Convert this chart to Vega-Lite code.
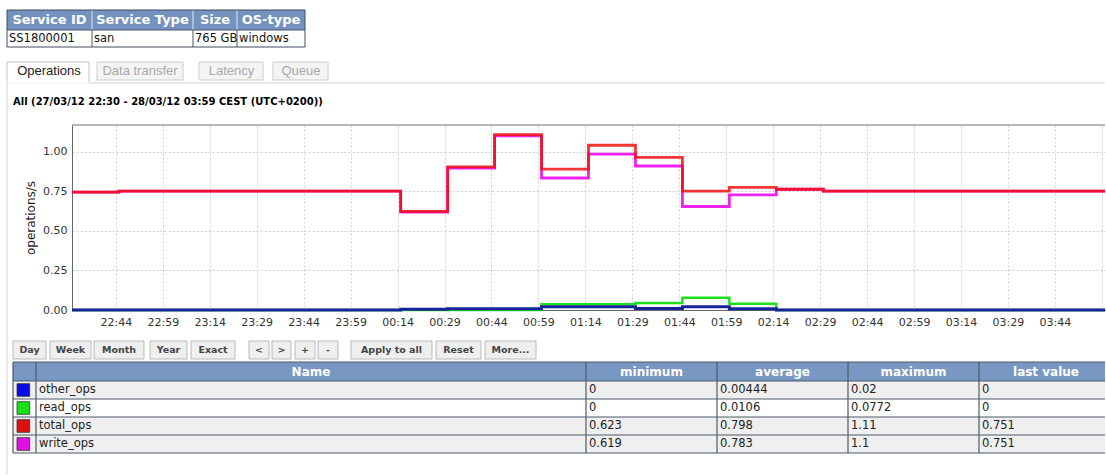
{
"$schema": "https://vega.github.io/schema/vega-lite/v6.json",
"background": "white",
"padding": {"left": 6, "top": 9, "right": 0, "bottom": 0},
"spacing": 0,
"bounds": "flush",
"config": {"view": {"stroke": null}},
"datasets": {
 "tophead": [{"c":0,"text":"Service ID"},{"c":1,"text":"Service Type"},{"c":2,"text":"Size"},{"c":3,"text":"OS-type"}],
 "topcells": [{"c":0,"text":"SS1800001"},{"c":1,"text":"san"},{"c":2,"text":"765 GB"},{"c":3,"text":"windows"}],
 "tabs": [{"tab":"Operations","a":0,"b":1},{"tab":"Data transfer","a":2,"b":3},{"tab":"Latency","a":4,"b":5},{"tab":"Queue","a":6,"b":7}],
 "buttons": [{"label":"Day","a":0,"b":1},{"label":"Week","a":2,"b":3},{"label":"Month","a":4,"b":5},{"label":"Year","a":6,"b":7},{"label":"Exact","a":8,"b":9},{"label":"<","a":10,"b":11},{"label":">","a":12,"b":13},{"label":"+","a":14,"b":15},{"label":"-","a":16,"b":17},{"label":"Apply to all","a":18,"b":19},{"label":"Reset","a":20,"b":21},{"label":"More...","a":22,"b":23}],
 "ops": [
  {"t":"2012-03-27T22:30:00","total":0.745,"write":0.745,"read":0,"other":0},
  {"t":"2012-03-27T22:45:00","total":0.751,"write":0.751,"read":0,"other":0},
  {"t":"2012-03-27T23:00:00","total":0.751,"write":0.751,"read":0,"other":0},
  {"t":"2012-03-27T23:15:00","total":0.751,"write":0.751,"read":0,"other":0},
  {"t":"2012-03-27T23:30:00","total":0.751,"write":0.751,"read":0,"other":0},
  {"t":"2012-03-27T23:45:00","total":0.751,"write":0.751,"read":0,"other":0},
  {"t":"2012-03-28T00:00:00","total":0.751,"write":0.751,"read":0,"other":0},
  {"t":"2012-03-28T00:15:00","total":0.623,"write":0.619,"read":0,"other":0.004},
  {"t":"2012-03-28T00:30:00","total":0.905,"write":0.897,"read":0,"other":0.008},
  {"t":"2012-03-28T00:45:00","total":1.108,"write":1.1,"read":0,"other":0.008},
  {"t":"2012-03-28T01:00:00","total":0.89,"write":0.834,"read":0.036,"other":0.02},
  {"t":"2012-03-28T01:15:00","total":1.041,"write":0.985,"read":0.036,"other":0.02},
  {"t":"2012-03-28T01:30:00","total":0.964,"write":0.91,"read":0.044,"other":0.01},
  {"t":"2012-03-28T01:45:00","total":0.751,"write":0.654,"read":0.0772,"other":0.02},
  {"t":"2012-03-28T02:00:00","total":0.775,"write":0.727,"read":0.04,"other":0.008},
  {"t":"2012-03-28T02:15:00","total":0.763,"write":0.763,"read":0,"other":0},
  {"t":"2012-03-28T02:30:00","total":0.751,"write":0.751,"read":0,"other":0},
  {"t":"2012-03-28T02:45:00","total":0.751,"write":0.751,"read":0,"other":0},
  {"t":"2012-03-28T03:00:00","total":0.751,"write":0.751,"read":0,"other":0},
  {"t":"2012-03-28T03:15:00","total":0.751,"write":0.751,"read":0,"other":0},
  {"t":"2012-03-28T03:30:00","total":0.751,"write":0.751,"read":0,"other":0},
  {"t":"2012-03-28T03:45:00","total":0.751,"write":0.751,"read":0,"other":0},
  {"t":"2012-03-28T04:00:00","total":0.751,"write":0.751,"read":0,"other":0}
 ],
 "thead": [{"c":1,"text":"Name"},{"c":2,"text":"minimum"},{"c":3,"text":"average"},{"c":4,"text":"maximum"},{"c":5,"text":"last value"}],
 "tcells": [
  {"r":1,"c":1,"text":"other_ops"},{"r":1,"c":2,"text":"0"},{"r":1,"c":3,"text":"0.00444"},{"r":1,"c":4,"text":"0.02"},{"r":1,"c":5,"text":"0"},
  {"r":2,"c":1,"text":"read_ops"},{"r":2,"c":2,"text":"0"},{"r":2,"c":3,"text":"0.0106"},{"r":2,"c":4,"text":"0.0772"},{"r":2,"c":5,"text":"0"},
  {"r":3,"c":1,"text":"total_ops"},{"r":3,"c":2,"text":"0.623"},{"r":3,"c":3,"text":"0.798"},{"r":3,"c":4,"text":"1.11"},{"r":3,"c":5,"text":"0.751"},
  {"r":4,"c":1,"text":"write_ops"},{"r":4,"c":2,"text":"0.619"},{"r":4,"c":3,"text":"0.783"},{"r":4,"c":4,"text":"1.1"},{"r":4,"c":5,"text":"0.751"}
 ],
 "swatch": [{"series":"other_ops","r":1},{"series":"read_ops","r":2},{"series":"total_ops","r":3},{"series":"write_ops","r":4}]
},
"vconcat": [
 {
  "width": 1033, "height": 37,
  "data": {"values": [{}]},
  "layer": [
   {"layer": [
    {"mark": {"type": "rect", "fill": "#7492bf"},
     "encoding": {"x": {"datum": 0, "type": "quantitative", "scale": {"domain": [0,1,2,3,4], "range": [-65,20,121,165,233], "nice": false, "zero": false}, "axis": null}, "x2": {"datum": 4},
                  "y": {"datum": 0, "type": "quantitative", "scale": {"domain": [0,1,2], "range": [0,20,37], "nice": false, "zero": false}, "axis": null}, "y2": {"datum": 1}}},
    {"data": {"values": [{"e":1},{"e":2},{"e":3}]}, "mark": {"type": "rule", "color": "#dce4ef"},
     "encoding": {"x": {"field": "e", "type": "quantitative", "scale": {"domain": [0,1,2,3,4], "range": [-65,20,121,165,233], "nice": false, "zero": false}, "axis": null},
                  "y": {"datum": 0, "type": "quantitative", "scale": {"domain": [0,1,2], "range": [0,20,37], "nice": false, "zero": false}, "axis": null}, "y2": {"datum": 1}}},
    {"data": {"values": [{"e":1},{"e":2},{"e":3}]}, "mark": {"type": "rule", "color": "#4a5668"},
     "encoding": {"x": {"field": "e", "type": "quantitative", "scale": {"domain": [0,1,2,3,4], "range": [-65,20,121,165,233], "nice": false, "zero": false}, "axis": null},
                  "y": {"datum": 1, "type": "quantitative", "scale": {"domain": [0,1,2], "range": [0,20,37], "nice": false, "zero": false}, "axis": null}, "y2": {"datum": 2}}},
    {"mark": {"type": "rule", "color": "#4a5668"},
     "encoding": {"x": {"datum": 0, "type": "quantitative", "scale": {"domain": [0,1,2,3,4], "range": [-65,20,121,165,233], "nice": false, "zero": false}, "axis": null}, "x2": {"datum": 4},
                  "y": {"datum": 1, "type": "quantitative", "scale": {"domain": [0,1,2], "range": [0,20,37], "nice": false, "zero": false}, "axis": null}}},
    {"mark": {"type": "rect", "filled": false, "stroke": "#3e4c60", "strokeWidth": 1},
     "encoding": {"x": {"datum": 0, "type": "quantitative", "scale": {"domain": [0,1,2,3,4], "range": [-65,20,121,165,233], "nice": false, "zero": false}, "axis": null}, "x2": {"datum": 4},
                  "y": {"datum": 0, "type": "quantitative", "scale": {"domain": [0,1,2], "range": [0,20,37], "nice": false, "zero": false}, "axis": null}, "y2": {"datum": 2}}},
    {"data": {"name": "topcells"}, "mark": {"type": "text", "align": "left", "baseline": "middle", "dx": 2, "font": "DejaVu Sans", "fontSize": 11.5, "color": "#111111"},
     "encoding": {"x": {"field": "c", "type": "quantitative", "scale": {"domain": [0,1,2,3,4], "range": [-65,20,121,165,233], "nice": false, "zero": false}, "axis": null},
                  "y": {"datum": 1.5, "type": "quantitative", "scale": {"domain": [0,1,2], "range": [0,20,37], "nice": false, "zero": false}, "axis": null},
                  "text": {"field": "text"}}}
   ]},
   {"data": {"name": "tophead"}, "mark": {"type": "text", "align": "center", "baseline": "middle", "font": "DejaVu Sans", "fontSize": 13, "fontWeight": "bold", "color": "#ffffff"},
    "encoding": {"x": {"field": "c", "type": "quantitative", "scale": {"domain": [0,1,2,3], "range": [-22.5,70.5,143,199], "nice": false, "zero": false}, "axis": null},
                 "y": {"datum": 0.5, "type": "quantitative", "scale": {"domain": [0,1,2], "range": [0,20,37], "nice": false, "zero": false}, "axis": null},
                 "text": {"field": "text"}}}
  ],
  "resolve": {"scale": {"x": "independent"}}
 },
 {
  "width": 1033, "height": 78,
  "data": {"values": [{}]},
  "layer": [
   {"layer": [
    {"data": {"name": "tabs"}, "transform": [{"filter": "datum.a > 0"}], "mark": {"type": "rect", "fill": "#f4f4f4", "stroke": "#cdcdcd", "strokeWidth": 1},
     "encoding": {"x": {"field": "a", "type": "quantitative", "scale": {"domain": [0,1,2,3,4,5,6,7,8], "range": [-65,17,25,111,127,191,201,256,1033], "nice": false, "zero": false}, "axis": null}, "x2": {"field": "b"},
                  "y": {"datum": 0, "type": "quantitative", "scale": {"domain": [0,1,2,3], "range": [15,33,36,78], "nice": false, "zero": false}, "axis": null}, "y2": {"datum": 1}}},
    {"data": {"name": "tabs"}, "transform": [{"filter": "datum.a == 0"}], "mark": {"type": "rect", "fill": "#ffffff", "stroke": "#c4c4c4", "strokeWidth": 1},
     "encoding": {"x": {"field": "a", "type": "quantitative", "scale": {"domain": [0,1,2,3,4,5,6,7,8], "range": [-65,17,25,111,127,191,201,256,1033], "nice": false, "zero": false}, "axis": null}, "x2": {"field": "b"},
                  "y": {"datum": 0, "type": "quantitative", "scale": {"domain": [0,1,2,3], "range": [15,33,36,78], "nice": false, "zero": false}, "axis": null}, "y2": {"datum": 2}}},
    {"mark": {"type": "rule", "color": "#d2d2d2"},
     "encoding": {"x": {"datum": 1, "type": "quantitative", "scale": {"domain": [0,1,2,3,4,5,6,7,8], "range": [-65,17,25,111,127,191,201,256,1033], "nice": false, "zero": false}, "axis": null}, "x2": {"datum": 8},
                  "y": {"datum": 2, "type": "quantitative", "scale": {"domain": [0,1,2,3], "range": [15,33,36,78], "nice": false, "zero": false}, "axis": null}}},
    {"mark": {"type": "rule", "color": "#ffffff", "strokeWidth": 1.5},
     "encoding": {"x": {"datum": 0, "type": "quantitative", "scale": {"domain": [0,1,2,3,4,5,6,7,8], "range": [-65,17,25,111,127,191,201,256,1033], "nice": false, "zero": false}, "axis": null}, "x2": {"datum": 1},
                  "y": {"datum": 2, "type": "quantitative", "scale": {"domain": [0,1,2,3], "range": [15,33,36,78], "nice": false, "zero": false}, "axis": null}}},
    {"mark": {"type": "rule", "color": "#d2d2d2"},
     "encoding": {"x": {"datum": 0, "type": "quantitative", "scale": {"domain": [0,1,2,3,4,5,6,7,8], "range": [-65,17,25,111,127,191,201,256,1033], "nice": false, "zero": false}, "axis": null},
                  "y": {"datum": 2, "type": "quantitative", "scale": {"domain": [0,1,2,3], "range": [15,33,36,78], "nice": false, "zero": false}, "axis": null}, "y2": {"datum": 3}}}
   ]},
   {"data": {"name": "tabs"}, "mark": {"type": "text", "align": "center", "baseline": "middle", "font": "Liberation Sans", "fontSize": 13},
    "encoding": {"x": {"field": "a", "type": "quantitative", "scale": {"domain": [0,2,4,6], "range": [-23,68,159.5,229], "nice": false, "zero": false}, "axis": null},
                 "y": {"datum": 0.5, "type": "quantitative", "scale": {"domain": [0,1,2,3], "range": [15,33,36,78], "nice": false, "zero": false}, "axis": null},
                 "text": {"field": "tab"},
                 "color": {"condition": {"test": "datum.a == 0", "value": "#222222"}, "value": "#a9a9a9"}}}
  ],
  "resolve": {"scale": {"x": "independent"}}
 },
 {
  "width": 1033, "height": 185,
  "title": {"text": "All (27/03/12 22:30 - 28/03/12 03:59 CEST (UTC+0200))", "anchor": "start", "frame": "group", "dx": -59, "offset": 8, "baseline": "bottom", "font": "DejaVu Sans", "fontSize": 10, "fontWeight": "bold", "color": "#000000"},
  "data": {"name": "ops"},
  "layer": [
    {"mark": {"type": "line", "interpolate": "step-after", "color": "#1fe01f", "strokeWidth": 2.5},
     "encoding": {
      "x": {"field": "t", "type": "temporal", "title": null,
            "scale": {"domain": [{"year":2012,"month":3,"date":27,"hours":22,"minutes":30},{"year":2012,"month":3,"date":28,"hours":4,"minutes":0}], "nice": false},
            "axis": {"values": [
              {"year":2012,"month":3,"date":27,"hours":22,"minutes":44},{"year":2012,"month":3,"date":27,"hours":22,"minutes":59},
              {"year":2012,"month":3,"date":27,"hours":23,"minutes":14},{"year":2012,"month":3,"date":27,"hours":23,"minutes":29},
              {"year":2012,"month":3,"date":27,"hours":23,"minutes":44},{"year":2012,"month":3,"date":27,"hours":23,"minutes":59},
              {"year":2012,"month":3,"date":28,"hours":0,"minutes":14},{"year":2012,"month":3,"date":28,"hours":0,"minutes":29},
              {"year":2012,"month":3,"date":28,"hours":0,"minutes":44},{"year":2012,"month":3,"date":28,"hours":0,"minutes":59},
              {"year":2012,"month":3,"date":28,"hours":1,"minutes":14},{"year":2012,"month":3,"date":28,"hours":1,"minutes":29},
              {"year":2012,"month":3,"date":28,"hours":1,"minutes":44},{"year":2012,"month":3,"date":28,"hours":1,"minutes":59},
              {"year":2012,"month":3,"date":28,"hours":2,"minutes":14},{"year":2012,"month":3,"date":28,"hours":2,"minutes":29},
              {"year":2012,"month":3,"date":28,"hours":2,"minutes":44},{"year":2012,"month":3,"date":28,"hours":2,"minutes":59},
              {"year":2012,"month":3,"date":28,"hours":3,"minutes":14},{"year":2012,"month":3,"date":28,"hours":3,"minutes":29},
              {"year":2012,"month":3,"date":28,"hours":3,"minutes":44},{"year":2012,"month":3,"date":28,"hours":3,"minutes":59}],
              "format": "%H:%M", "labelExpr": "datum.label == '03:59' ? '' : datum.label", "ticks": false, "labelPadding": 6,
              "labelFont": "DejaVu Sans", "labelFontSize": 11, "labelColor": "#333333", "labelOverlap": false,
              "grid": true, "gridColor": "#cfcfcf", "gridDash": [2,2], "domainColor": "#666666"}},
      "y": {"field": "read", "type": "quantitative", "title": "operations/s", "scale": {"domain": [0,1.169], "nice": false, "zero": false},
            "axis": {"values": [0,0.25,0.5,0.75,1], "format": ".2f", "titleFont": "DejaVu Sans", "titleFontSize": 12, "titleFontWeight": "normal", "titleColor": "#222222", "titlePadding": 5,
                     "ticks": false, "labelPadding": 5, "labelFont": "DejaVu Sans", "labelFontSize": 11, "labelColor": "#333333",
                     "grid": true, "gridColor": "#cfcfcf", "gridDash": [2,2], "domainColor": "#666666"}}}},
    {"mark": {"type": "line", "interpolate": "step-after", "color": "#16249a", "strokeWidth": 3},
     "encoding": {"x": {"field": "t", "type": "temporal", "title": null}, "y": {"field": "other", "type": "quantitative", "title": "operations/s"}}},
    {"mark": {"type": "line", "interpolate": "step-after", "color": "#ee22ee", "strokeWidth": 2.8},
     "encoding": {"x": {"field": "t", "type": "temporal", "title": null}, "y": {"field": "write", "type": "quantitative", "title": "operations/s"}}},
    {"mark": {"type": "line", "interpolate": "step-after", "color": "#ee1111", "strokeWidth": 2.8, "opacity": 0.85},
     "encoding": {"x": {"field": "t", "type": "temporal", "title": null}, "y": {"field": "total", "type": "quantitative", "title": "operations/s"}}},
    {"data": {"values": [{}]}, "mark": {"type": "rule", "color": "#6f6f6f"},
     "encoding": {"y": {"datum": 1.169, "type": "quantitative", "title": "operations/s"}}},
    {"data": {"values": [{}]}, "mark": {"type": "rule", "color": "#d2d2d2"},
     "encoding": {"x": {"datum": {"year":2012,"month":3,"date":27,"hours":22,"minutes":9,"seconds":14}, "type": "temporal", "title": null},
                  "y": {"datum": 0, "type": "quantitative", "title": "operations/s"}, "y2": {"datum": 1.169}}}
  ]
 },
 {
  "width": 1033, "height": 52,
  "data": {"values": [{}]},
  "layer": [
   {"layer": [
    {"data": {"name": "buttons"}, "mark": {"type": "rect", "fill": "#efefef", "stroke": "#b9b9b9", "strokeWidth": 1},
     "encoding": {"x": {"field": "a", "type": "quantitative", "scale": {"domain": [-1,0,1,2,3,4,5,6,7,8,9,10,11,12,13,14,15,16,17,18,19,20,21,22,23], "range": [-65,-59,-26,-22,19,22,72,78,115,119,163,177,197,200,219,223,243,246,266,279,360,364,409,413,464], "nice": false, "zero": false}, "axis": null}, "x2": {"field": "b"},
                  "y": {"datum": 0, "type": "quantitative", "scale": {"domain": [-1,0,1,2], "range": [0,31,49,52], "nice": false, "zero": false}, "axis": null}, "y2": {"datum": 1}}},
    {"mark": {"type": "rule", "color": "#d2d2d2"},
     "encoding": {"x": {"datum": -1, "type": "quantitative", "scale": {"domain": [-1,0,1,2,3,4,5,6,7,8,9,10,11,12,13,14,15,16,17,18,19,20,21,22,23], "range": [-65,-59,-26,-22,19,22,72,78,115,119,163,177,197,200,219,223,243,246,266,279,360,364,409,413,464], "nice": false, "zero": false}, "axis": null},
                  "y": {"datum": -1, "type": "quantitative", "scale": {"domain": [-1,0,1,2], "range": [0,31,49,52], "nice": false, "zero": false}, "axis": null}, "y2": {"datum": 2}}}
   ]},
   {"data": {"name": "buttons"}, "mark": {"type": "text", "align": "center", "baseline": "middle", "font": "DejaVu Sans", "fontSize": 9.5, "fontWeight": "bold", "color": "#444444"},
    "encoding": {"x": {"field": "a", "type": "quantitative", "scale": {"domain": [0,2,4,6,8,10,12,14,16,18,20,22], "range": [-42.5,-1.5,47,96.5,141,187,209.5,233,256,319.5,386.5,438.5], "nice": false, "zero": false}, "axis": null},
                 "y": {"datum": 0.5, "type": "quantitative", "scale": {"domain": [-1,0,1,2], "range": [0,31,49,52], "nice": false, "zero": false}, "axis": null},
                 "text": {"field": "label"}}}
  ],
  "resolve": {"scale": {"x": "independent"}}
 },
 {
  "width": 1033, "height": 91,
  "data": {"values": [{}]},
  "layer": [
   {"layer": [
    {"mark": {"type": "rect", "fill": "#7897c2"},
     "encoding": {"x": {"datum": 0, "type": "quantitative", "scale": {"domain": [-1,0,1,2,3,4,5,6], "range": [-65,-59,-36,514,645,776,907,1033], "nice": false, "zero": false}, "axis": null}, "x2": {"datum": 6},
                  "y": {"datum": 0, "type": "quantitative", "scale": {"domain": [0,1,2,3,4,5,6], "range": [0,19,37,55,73,91,112], "nice": false, "zero": false}, "axis": null}, "y2": {"datum": 1}}},
    {"mark": {"type": "rect", "fill": "#efefef"},
     "encoding": {"x": {"datum": 0, "type": "quantitative", "scale": {"domain": [-1,0,1,2,3,4,5,6], "range": [-65,-59,-36,514,645,776,907,1033], "nice": false, "zero": false}, "axis": null}, "x2": {"datum": 6},
                  "y": {"datum": 1, "type": "quantitative", "scale": {"domain": [0,1,2,3,4,5,6], "range": [0,19,37,55,73,91,112], "nice": false, "zero": false}, "axis": null}, "y2": {"datum": 2}}},
    {"mark": {"type": "rect", "fill": "#efefef"},
     "encoding": {"x": {"datum": 0, "type": "quantitative", "scale": {"domain": [-1,0,1,2,3,4,5,6], "range": [-65,-59,-36,514,645,776,907,1033], "nice": false, "zero": false}, "axis": null}, "x2": {"datum": 6},
                  "y": {"datum": 3, "type": "quantitative", "scale": {"domain": [0,1,2,3,4,5,6], "range": [0,19,37,55,73,91,112], "nice": false, "zero": false}, "axis": null}, "y2": {"datum": 5}}},
    {"data": {"values": [{"h":0},{"h":1},{"h":2},{"h":3},{"h":4},{"h":5}]}, "mark": {"type": "rule", "color": "#4f5a6b", "strokeWidth": 1.2},
     "encoding": {"x": {"datum": 0, "type": "quantitative", "scale": {"domain": [-1,0,1,2,3,4,5,6], "range": [-65,-59,-36,514,645,776,907,1033], "nice": false, "zero": false}, "axis": null}, "x2": {"datum": 6},
                  "y": {"field": "h", "type": "quantitative", "scale": {"domain": [0,1,2,3,4,5,6], "range": [0,19,37,55,73,91,112], "nice": false, "zero": false}, "axis": null}}},
    {"data": {"values": [{"e":0},{"e":1},{"e":2},{"e":3},{"e":4},{"e":5}]}, "mark": {"type": "rule", "color": "#4f5a6b", "strokeWidth": 1.2},
     "encoding": {"x": {"field": "e", "type": "quantitative", "scale": {"domain": [-1,0,1,2,3,4,5,6], "range": [-65,-59,-36,514,645,776,907,1033], "nice": false, "zero": false}, "axis": null},
                  "y": {"datum": 0, "type": "quantitative", "scale": {"domain": [0,1,2,3,4,5,6], "range": [0,19,37,55,73,91,112], "nice": false, "zero": false}, "axis": null}, "y2": {"datum": 5}}},
    {"mark": {"type": "rule", "color": "#d2d2d2"},
     "encoding": {"x": {"datum": -1, "type": "quantitative", "scale": {"domain": [-1,0,1,2,3,4,5,6], "range": [-65,-59,-36,514,645,776,907,1033], "nice": false, "zero": false}, "axis": null},
                  "y": {"datum": 0, "type": "quantitative", "scale": {"domain": [0,1,2,3,4,5,6], "range": [0,19,37,55,73,91,112], "nice": false, "zero": false}, "axis": null}, "y2": {"datum": 6}}},
    {"data": {"name": "swatch"}, "mark": {"type": "square", "size": 160, "filled": true, "opacity": 1, "stroke": "#333333", "strokeWidth": 0.8, "yOffset": 9},
     "encoding": {"x": {"datum": 0.45, "type": "quantitative", "scale": {"domain": [-1,0,1,2,3,4,5,6], "range": [-65,-59,-36,514,645,776,907,1033], "nice": false, "zero": false}, "axis": null},
                  "y": {"field": "r", "type": "quantitative", "scale": {"domain": [0,1,2,3,4,5,6], "range": [0,19,37,55,73,91,112], "nice": false, "zero": false}, "axis": null},
                  "color": {"field": "series", "type": "nominal", "scale": {"domain": ["other_ops","read_ops","total_ops","write_ops"], "range": ["#0a0ae6","#16e016","#e01010","#e010e0"]}, "legend": null}}},
    {"data": {"name": "tcells"}, "mark": {"type": "text", "align": "left", "baseline": "middle", "dx": 3, "dy": 9, "font": "DejaVu Sans", "fontSize": 11.5, "color": "#222222"},
     "encoding": {"x": {"field": "c", "type": "quantitative", "scale": {"domain": [-1,0,1,2,3,4,5,6], "range": [-65,-59,-36,514,645,776,907,1033], "nice": false, "zero": false}, "axis": null},
                  "y": {"field": "r", "type": "quantitative", "scale": {"domain": [0,1,2,3,4,5,6], "range": [0,19,37,55,73,91,112], "nice": false, "zero": false}, "axis": null},
                  "text": {"field": "text"}}}
   ]},
   {"data": {"name": "thead"}, "mark": {"type": "text", "align": "center", "baseline": "middle", "font": "DejaVu Sans", "fontSize": 12, "fontWeight": "bold", "color": "#ffffff"},
    "encoding": {"x": {"field": "c", "type": "quantitative", "scale": {"domain": [1,2,3,4,5], "range": [239,579.5,710.5,841.5,974], "nice": false, "zero": false}, "axis": null},
                 "y": {"datum": 0.5, "type": "quantitative", "scale": {"domain": [0,1,2,3,4,5,6], "range": [0,19,37,55,73,91,112], "nice": false, "zero": false}, "axis": null},
                 "text": {"field": "text"}}}
  ],
  "resolve": {"scale": {"x": "independent"}}
 }
]
}
